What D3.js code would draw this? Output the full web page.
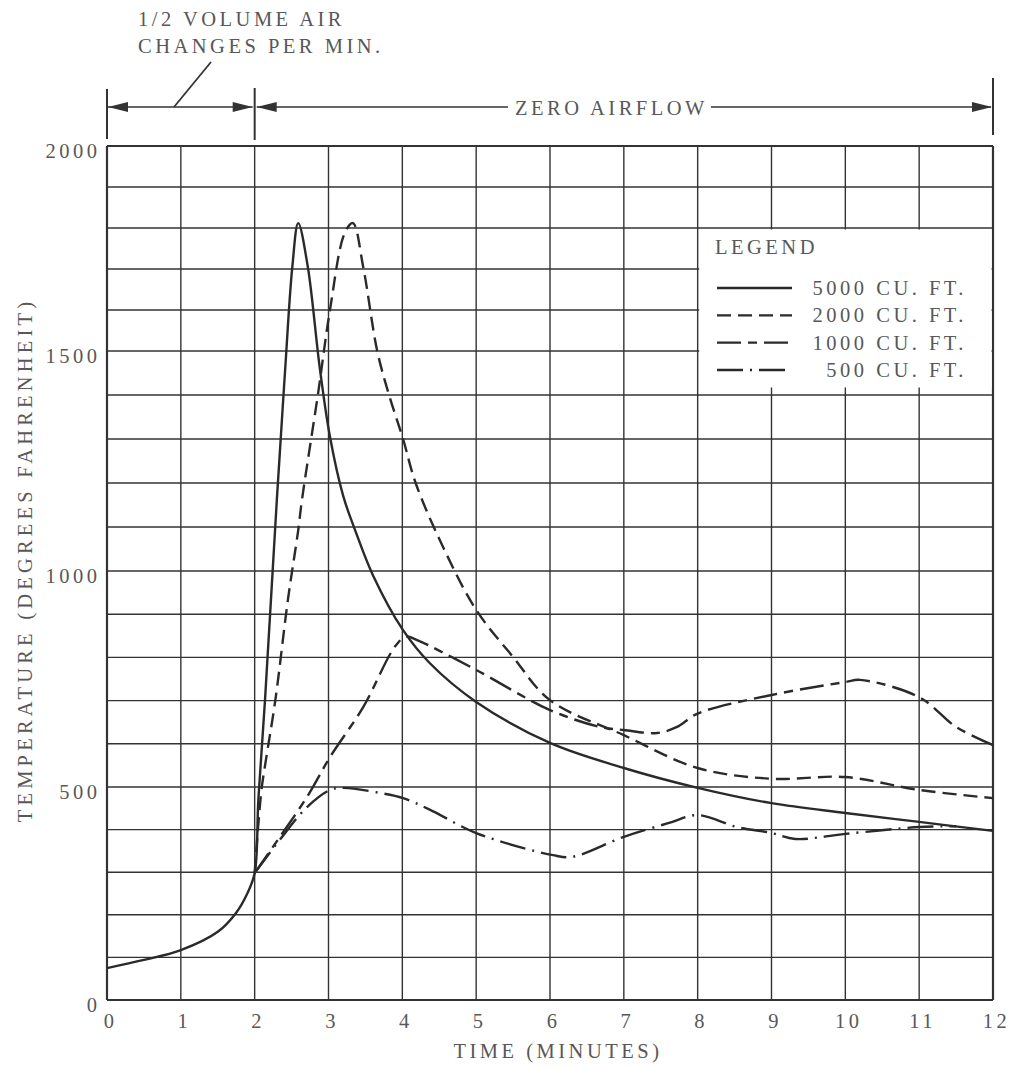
<!DOCTYPE html>
<html>
<head>
<meta charset="utf-8">
<script src="https://cdn.jsdelivr.net/npm/d3@7"></script>
<style>
  body { margin: 0; background: #fff; }
  text { font-family: "Liberation Serif", serif; fill: #585858; font-size: 20.5px; letter-spacing: 3.5px; }
</style>
</head>
<body>
<div id="chart"></div>
<script>
// tick labels
const minutes = [0, 1, 2, 3, 4, 5, 6, 7, 8, 9, 10, 11, 12];
const tempLabels = [0, 500, 1000, 1500, 2000];
const gridTemps = [0, 100, 200, 300, 400, 500, 600, 700, 800, 900, 1000,
                   1100, 1200, 1300, 1400, 1500, 1600, 1700, 1800, 1900, 2000];

// [minutes, deg F]
const cu5000 = [[0, 75], [0.5, 94], [1, 117], [1.5, 160], [1.75, 205], [1.9, 250], [2, 298],
  [2.05, 470], [2.14, 701], [2.3, 1161], [2.41, 1450], [2.51, 1705], [2.59, 1812], [2.72, 1705],
  [2.88, 1464], [3.02, 1305], [3.2, 1170], [3.36, 1093], [3.6, 991], [4.01, 863],
  [4.37, 787], [5, 697], [6, 602], [7, 544], [8, 498], [9, 462], [10, 439], [11, 418], [12, 397]];
const cu2000 = [[2, 298], [2.09, 490], [2.15, 560], [2.28, 701], [2.45, 933], [2.59, 1093],
  [2.64, 1161], [2.86, 1405], [3.02, 1600], [3.22, 1788], [3.33, 1812], [3.47, 1705],
  [3.66, 1500], [3.82, 1400], [4.01, 1300], [4.18, 1200], [4.55, 1055], [5, 910],
  [5.5, 801], [6, 701], [7, 620], [8, 544], [9, 519], [10, 523], [11, 493], [12, 474]];
const cu1000 = [[2, 298], [2.35, 385], [2.71, 477], [3.02, 569], [3.47, 685], [3.9, 825],
  [4.05, 848], [4.2, 840], [5, 771], [6, 678], [6.68, 639], [7, 632], [7.45, 625],
  [7.72, 639], [8, 670], [9, 713], [10, 743], [10.2, 748], [11, 708], [11.5, 639], [12, 597]];
const cu500 = [[2, 298], [2.34, 376], [2.71, 453], [3.02, 493], [3.2, 498], [3.7, 486],
  [4.01, 474], [4.37, 447], [5, 392], [6.04, 340], [6.3, 336], [7, 383], [7.6, 415],
  [8, 434], [8.53, 406], [9, 392], [9.32, 378], [10, 390], [11, 406], [11.5, 408]];

const seriesNames = ["5000 CU. FT.", "2000 CU. FT.", "1000 CU. FT.", "500 CU. FT."];
const seriesData = [cu5000, cu2000, cu1000, cu500];
const seriesDash = [null, "14,7", "24,7,9,7", "26,7,2,7"];

const W = 1012, H = 1067;
const ink = "#333";

const svg = d3.select("#chart").append("svg")
    .attr("width", W)
    .attr("height", H)
    .style("background", "#fff");

const x = d3.scaleLinear().domain([0, 12]).range([107, 993]);
// the scanned grid is a bit uneven, so the scale is piecewise
const y = d3.scaleLinear().domain([0, 500, 1000, 1500, 2000]).range([1000, 787, 571, 351, 146]);

// grid
svg.append("g").selectAll("line.hgrid")
    .data(gridTemps)
    .enter().append("line")
    .attr("class", "hgrid")
    .attr("x1", x(0)).attr("x2", x(12))
    .attr("y1", d => y(d)).attr("y2", d => y(d))
    .style("stroke", ink)
    .style("stroke-width", d => (d === 0 || d === 2000) ? 2 : 1.4);

svg.append("g").selectAll("line.vgrid")
    .data(minutes)
    .enter().append("line")
    .attr("class", "vgrid")
    .attr("x1", d => x(d)).attr("x2", d => x(d))
    .attr("y1", y(2000)).attr("y2", y(0))
    .style("stroke", ink)
    .style("stroke-width", d => (d === 0 || d === 12) ? 2.2 : 1.4);

// tick labels
svg.append("g").selectAll("text")
    .data(tempLabels)
    .enter().append("text")
    .attr("x", 100.5)
    .attr("y", d => y(d) + 12)
    .attr("text-anchor", "end")
    .text(d => d);

svg.append("g").selectAll("text")
    .data(minutes)
    .enter().append("text")
    .attr("x", d => x(d) + 3.5)
    .attr("y", 1028)
    .attr("text-anchor", "middle")
    .text(d => d);

svg.append("text")
    .attr("x", 558)
    .attr("y", 1058)
    .attr("text-anchor", "middle")
    .text("TIME (MINUTES)");

svg.append("text")
    .attr("transform", "translate(32,560) rotate(-90)")
    .attr("text-anchor", "middle")
    .style("letter-spacing", "4.2px")
    .text("TEMPERATURE (DEGREES FAHRENHEIT)");

// curves
const line = d3.line()
    .x(d => x(d[0]))
    .y(d => y(d[1]))
    .curve(d3.curveCatmullRom.alpha(0.5));

svg.append("g").selectAll("path")
    .data(seriesData)
    .enter().append("path")
    .attr("d", line)
    .style("fill", "none")
    .style("stroke", "#2a2a2a")
    .style("stroke-width", 2.4)
    .style("stroke-dasharray", (d, i) => seriesDash[i]);

// legend, blanks out the grid behind it
const legend = svg.append("g");
legend.append("rect")
    .attr("x", x(8) + 1.5)
    .attr("y", y(1800) + 1.5)
    .attr("width", x(12) - x(8) - 3)
    .attr("height", y(1400) - y(1800) - 9)
    .style("fill", "#fff");

legend.append("text")
    .attr("x", 715)
    .attr("y", 254)
    .text("LEGEND");

const rowY = d3.scalePoint().domain(seriesNames).range([288, 370]);

legend.selectAll("line.key")
    .data(seriesNames)
    .enter().append("line")
    .attr("class", "key")
    .attr("x1", 717).attr("x2", 792)
    .attr("y1", d => rowY(d)).attr("y2", d => rowY(d))
    .style("stroke", "#2a2a2a")
    .style("stroke-width", 2.4)
    .style("stroke-dasharray", (d, i) => seriesDash[i]);

legend.selectAll("text.key")
    .data(seriesNames)
    .enter().append("text")
    .attr("class", "key")
    .attr("x", 967)
    .attr("y", d => rowY(d) + 7)
    .attr("text-anchor", "end")
    .text(d => d);

// airflow annotation above the grid
const note = svg.append("g");
const dimY = 107;

function tick(xp, y1, y2) {
    note.append("line")
        .attr("x1", xp).attr("x2", xp).attr("y1", y1).attr("y2", y2)
        .style("stroke", ink).style("stroke-width", 2);
}
function arrow(tip, dir) {
    // dir = -1 points left, 1 points right
    const len = 20, hw = 5;
    note.append("path")
        .attr("d", `M${tip},${dimY} L${tip - dir * len},${dimY - hw} L${tip - dir * len},${dimY + hw} Z`)
        .style("fill", ink);
}
function seg(x1, x2) {
    note.append("line")
        .attr("x1", x1).attr("x2", x2).attr("y1", dimY).attr("y2", dimY)
        .style("stroke", ink).style("stroke-width", 1.6);
}

tick(x(0), 89, 139);
tick(x(2), 88, 140);
tick(x(12), 78, 135);

seg(x(0), x(2) - 2);
arrow(x(0) + 1, -1);
arrow(x(2) - 2, 1);
arrow(x(2) + 2, -1);

const zero = note.append("text")
    .attr("x", 515)
    .attr("y", 115)
    .text("ZERO AIRFLOW");
const zb = zero.node().getBBox();
seg(x(2) + 2, zb.x - 7);
seg(zb.x + zb.width + 3, x(12) - 2);
arrow(x(12) - 1, 1);

// leader to the left bracket
note.append("line")
    .attr("x1", 174).attr("y1", dimY)
    .attr("x2", 211).attr("y2", 62)
    .style("stroke", ink).style("stroke-width", 1.8);

note.append("text")
    .attr("x", 138)
    .attr("y", 26)
    .text("1/2 VOLUME AIR");
note.append("text")
    .attr("x", 138)
    .attr("y", 53)
    .text("CHANGES PER MIN.");
</script>
</body>
</html>
